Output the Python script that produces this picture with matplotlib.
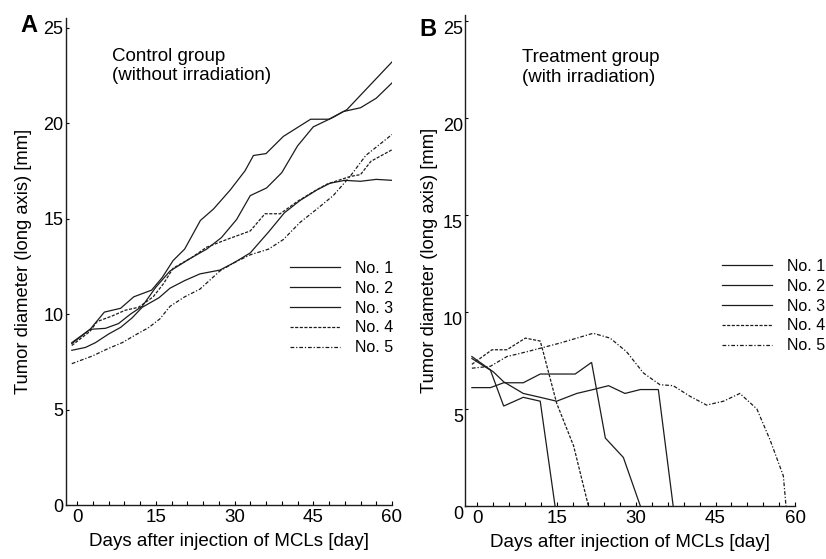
import matplotlib
matplotlib.use("Agg")
import matplotlib.pyplot as plt
from matplotlib.ticker import MultipleLocator
from matplotlib.lines import Line2D
from matplotlib.transforms import ScaledTranslation

plt.rcParams["font.family"] = ["Liberation Sans", "DejaVu Sans"]

# Panel A - control group (without irradiation)
aDays1 = [-1, 2.5, 5.2, 8.3, 10.8, 14.2, 16.2, 18.3, 20.5, 23.5, 26, 29.2, 32, 33.6, 36, 39.3, 44.5, 48, 50.7, 54, 57, 60]
aVals1 = [8.5, 9.2, 10.1, 10.3, 10.9, 11.25, 11.9, 12.8, 13.4, 14.9, 15.5, 16.5, 17.5, 18.3, 18.4, 19.3, 20.2, 20.2, 20.6, 20.8, 21.3, 22.1]
aDays2 = [-1, 2.5, 5.4, 7.9, 10.2, 12.4, 15, 17.7, 21.5, 24.7, 27.5, 30.4, 33, 36.1, 39, 42, 45, 48.8, 51.4, 60]
aVals2 = [8.45, 9.2, 9.25, 9.5, 10.0, 10.4, 11.4, 12.25, 12.9, 13.4, 14.0, 14.95, 16.2, 16.6, 17.4, 18.8, 19.8, 20.3, 20.7, 23.2]
aDays3 = [-1, 1.6, 3.5, 6, 8.3, 10.5, 12.4, 15.6, 17.7, 20.5, 23.4, 27.2, 30, 33, 36.5, 39.5, 42.5, 45.7, 48.2, 51, 54, 57, 60]
aVals3 = [8.1, 8.25, 8.5, 8.95, 9.3, 9.8, 10.35, 10.85, 11.35, 11.75, 12.1, 12.3, 12.7, 13.2, 14.3, 15.3, 15.95, 16.5, 16.85, 17.0, 16.95, 17.05, 17.0]
aDays4 = [-1, 2.5, 3.8, 6.7, 9.2, 11.7, 14.5, 16.5, 18.3, 21.8, 24.7, 28.5, 33, 35.8, 38.7, 42, 45, 47.6, 52, 54, 56, 60]
aVals4 = [8.35, 9.1, 9.6, 9.9, 10.2, 10.35, 10.9, 11.6, 12.4, 12.95, 13.5, 13.9, 14.35, 15.25, 15.25, 15.9, 16.4, 16.8, 17.2, 17.3, 18.0, 18.6]
aDays5 = [-1, 2.9, 6, 8.6, 11.1, 13.7, 15.8, 17.7, 20.5, 23.4, 27.2, 30, 33, 36.5, 39.3, 42.5, 45.7, 48.8, 52, 55, 60]
aVals5 = [7.4, 7.8, 8.2, 8.5, 8.9, 9.3, 9.75, 10.4, 10.9, 11.3, 12.25, 12.7, 13.1, 13.4, 13.9, 14.8, 15.5, 16.2, 17.2, 18.3, 19.4]

# Panel B - treatment group (with irradiation)
bDays1 = [-1, 2.5, 5, 8.7, 11.9, 14.7]
bVals1 = [7.6, 7.0, 5.15, 5.6, 5.4, 0]
bDays2 = [-1, 2.5, 5, 8.7, 11.9, 18.5, 21.6, 24.2, 27.6, 30.8]
bVals2 = [6.1, 6.1, 6.35, 6.35, 6.8, 6.8, 7.4, 3.5, 2.5, 0]
bDays3 = [-1, 3.1, 5, 8.7, 11.9, 15, 18.8, 21.9, 24.8, 27.9, 30.8, 34.2, 37]
bVals3 = [7.7, 6.9, 6.4, 5.8, 5.6, 5.4, 5.8, 6.0, 6.2, 5.8, 6.0, 6.0, 0]
bDays4 = [-1, 2.8, 5.6, 9.1, 11.9, 12.5, 15, 18.2, 21]
bVals4 = [7.3, 8.05, 8.05, 8.65, 8.5, 7.9, 5.3, 3.1, 0]
bDays5 = [-1, 2.5, 5.6, 9.4, 15.7, 21.9, 25.1, 28.2, 31.4, 34.5, 37, 40.2, 43.3, 46.5, 49.6, 52.8, 55.3, 57.8, 58.3]
bVals5 = [7.1, 7.2, 7.7, 7.95, 8.4, 8.9, 8.65, 7.95, 6.85, 6.25, 6.2, 5.65, 5.2, 5.4, 5.8, 5.0, 3.4, 1.55, 0]

labels = ["No. 1", "No. 2", "No. 3", "No. 4", "No. 5"]
styles = ["-", "-", "-", (0, (2.5, 1.2)), (0, (3, 1.5, 1, 1.5))]
lineCol = "#1c1c1c"


def drawPanel(ax, days, vals, xlim, ylim, title, titlePos, legPos, yPad, yShift, fig):
    """
    Draws one panel: five tumour curves, axes, group text and legend.
    """
    for d, v, ls in zip(days, vals, styles):
        ax.plot(d, v, color=lineCol, lw=0.9, linestyle=ls, solid_joinstyle="miter")

    ax.set_xlim(xlim) #Limits
    ax.set_ylim(ylim)
    ax.spines["top"].set_visible(False)
    ax.spines["right"].set_visible(False)
    for s in ["left", "bottom"]:
        ax.spines[s].set_linewidth(1.0)
        ax.spines[s].set_color(lineCol)

    ax.xaxis.set_major_locator(MultipleLocator(15)) #Ticks
    ax.xaxis.set_minor_locator(MultipleLocator(3))
    ax.yaxis.set_major_locator(MultipleLocator(5))
    ax.tick_params(axis="x", which="both", direction="in", length=3, width=0.8, pad=3, labelsize=13.5)
    ax.tick_params(axis="y", which="major", direction="in", length=2, width=0.8, pad=1.5, labelsize=13)
    if yShift: #Tick labels sit a little below their ticks in the original
        for lab in ax.get_yticklabels():
            lab.set_transform(lab.get_transform() + ScaledTranslation(0, -yShift / 72, fig.dpi_scale_trans))

    ax.set_xlabel("Days after injection of MCLs [day]", fontsize=13.5, labelpad=5)
    ax.set_ylabel("Tumor diameter (long axis) [mm]", fontsize=13.2, labelpad=yPad)

    ax.text(titlePos[0], titlePos[1], title, fontsize=13.5, va="top", ha="left", linespacing=1.2)

    handles = [Line2D([], [], color=lineCol, lw=0.9, linestyle=ls) for ls in styles] #Legend
    ax.legend(handles, labels, loc="upper left", bbox_to_anchor=legPos, bbox_transform=fig.transFigure,
              frameon=False, fontsize=11.5, handlelength=3.1, handletextpad=1.0, labelspacing=0.3,
              borderpad=0, borderaxespad=0)


W, H = 826, 559
fig = plt.figure(figsize=(W / 100, H / 100), dpi=100)

axA = fig.add_axes([65.5 / W, 1 - 505 / H, 326.5 / W, 487 / H])
axB = fig.add_axes([465 / W, 1 - 506 / H, 330 / W, 491 / H])

drawPanel(axA, [aDays1, aDays2, aDays3, aDays4, aDays5], [aVals1, aVals2, aVals3, aVals4, aVals5],
          (-2.2, 60), (0, 25.5), "Control group\n(without irradiation)", (6.7, 23.95),
          (290 / W, 1 - 261 / H), 8, 0, fig)
drawPanel(axB, [bDays1, bDays2, bDays3, bDays4, bDays5], [bVals1, bVals2, bVals3, bVals4, bVals5],
          (-2.3, 60), (0, 25.3), "Treatment group\n(with irradiation)", (8.5, 23.55),
          (722 / W, 1 - 259 / H), 3.5, 4.5, fig)

fig.text(29 / W, 1 - 26 / H, "A", fontsize=17, fontweight="bold", ha="center", va="center")
fig.text(428 / W, 1 - 29 / H, "B", fontsize=17, fontweight="bold", ha="center", va="center")

fig.savefig("out.png", dpi=100)
